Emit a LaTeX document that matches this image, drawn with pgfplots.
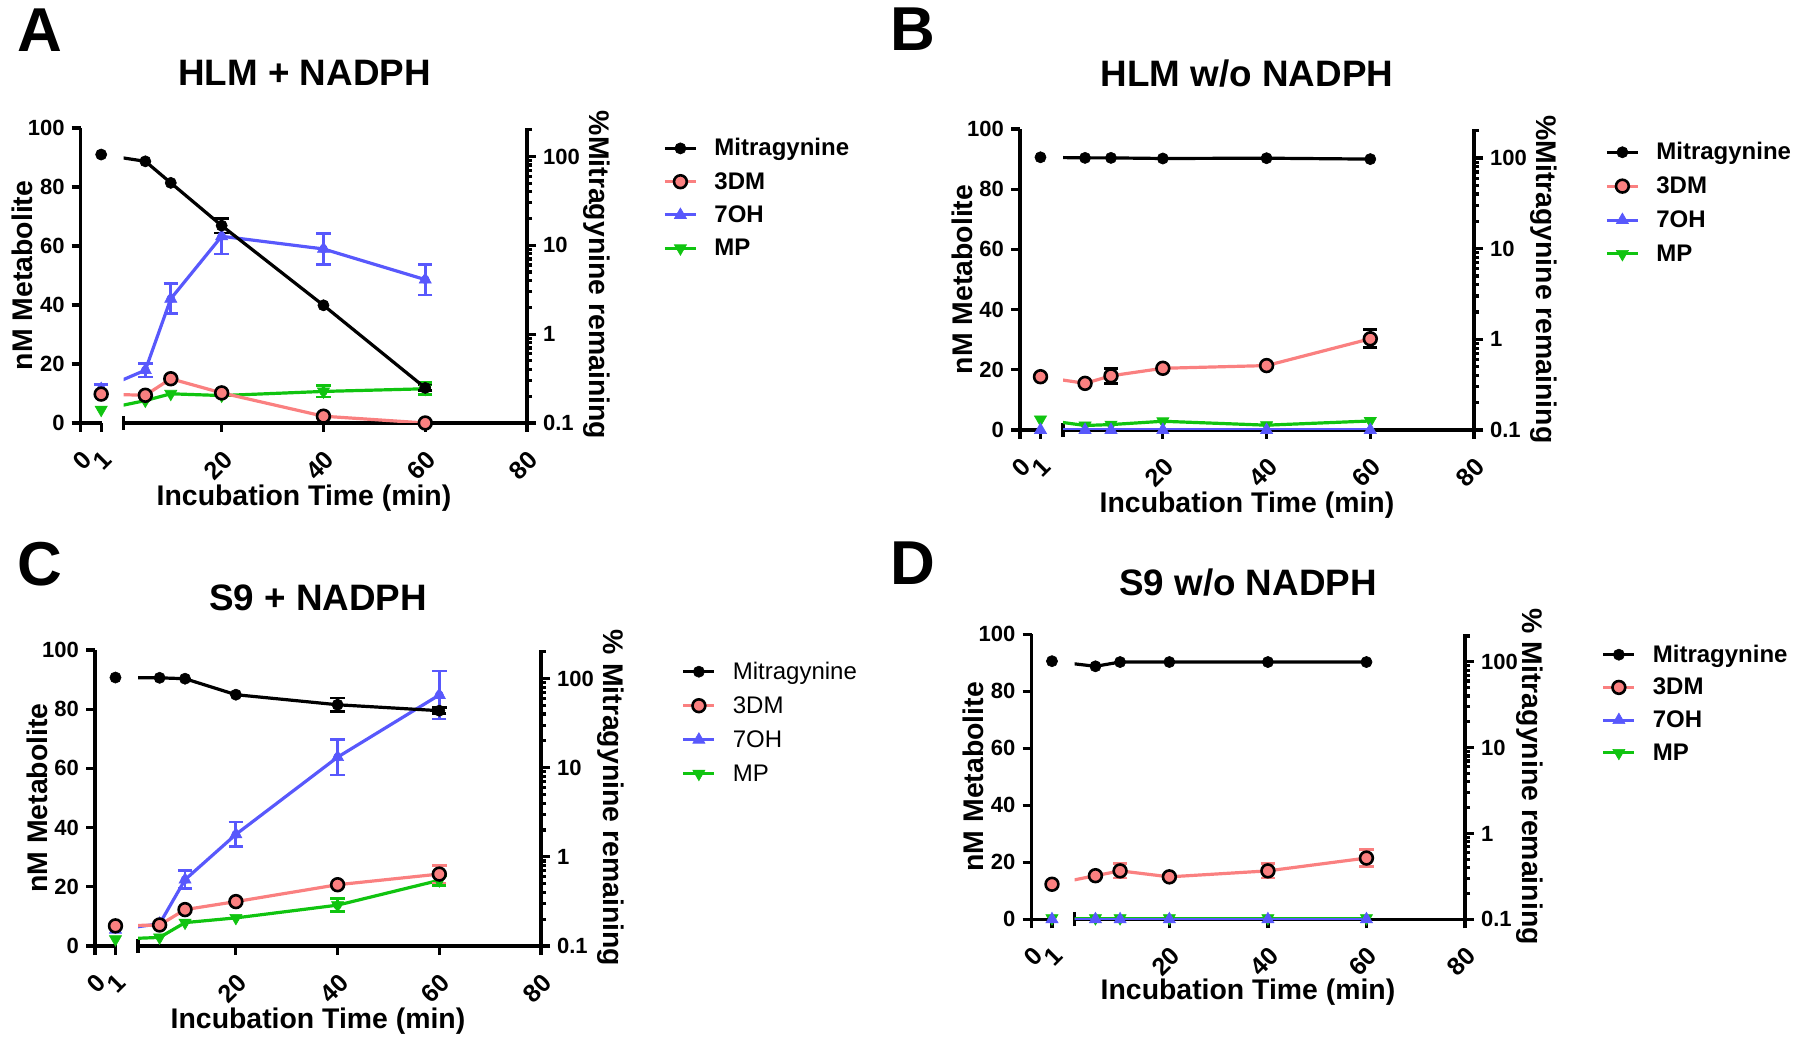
\documentclass[border=0pt]{standalone}
\usepackage{pgfplots}
\pgfplotsset{compat=1.18}
\usepackage{fontspec}
\setmainfont{Liberation Sans}
\definecolor{salmon7}{RGB}{250,128,128}
\definecolor{blue7}{RGB}{88,88,252}
\definecolor{green7}{RGB}{16,196,16}
\newcommand{\tfont}{\fontsize{11}{13}\selectfont\bfseries}
\newcommand{\xtfont}{\fontsize{12.5}{14}\selectfont\bfseries}
\newcommand{\letfont}{\fontsize{31}{35}\selectfont\bfseries}
\newcommand{\titfont}{\fontsize{18.4}{22}\selectfont\bfseries}
\newcommand{\labfont}{\fontsize{14.2}{17}\selectfont\bfseries}
\pgfplotsset{
 base/.style={scale only axis, anchor=south west, ymin=0, ymax=100,
   axis line style={line width=1.6pt, black},
   tick style={line width=1.6pt, black},
   tick align=outside, major tick length=4.5pt,
   ticklabel style={font=\tfont},
   /pgf/number format/assume math mode=true},
 leftseg/.style={base, xmin=0, xmax=1.05, width=10.75pt, clip=false,
   axis x line*=bottom, axis y line*=left, xtick={0,1}, ytick={0,20,40,60,80,100},
   xticklabel style={rotate=45, anchor=north east, font=\xtfont}, xticklabel shift=3.7pt},
 rightseg/.style={base, xmin=0.75, xmax=80, clip=true,
   axis x line*=bottom, axis y line=none, xtick={20,40,60,80},
   xticklabel style={rotate=45, anchor=north east, font=\xtfont}, xticklabel shift=3.7pt,
   extra x ticks={0.75}, extra x tick labels={},
   extra x tick style={tick align=center, major tick length=7pt},
   legend cell align=left,
   legend image code/.code={\draw[mark repeat=2,mark phase=2,##1] plot coordinates {(0pt,0pt)(7.75pt,0pt)(15.5pt,0pt)};}},
 logax/.style={scale only axis, anchor=south west, xmin=0, xmax=1, ymin=0.1, ymax=209,
   axis x line=none, axis y line*=right,
   axis line style={line width=1.6pt, black},
   tick style={line width=1.6pt, black},
   tick align=outside, major tick length=4.5pt, minor tick length=2.5pt,
   ytick={0.1,1,10,100}, yticklabels={0.1,1,10,100},
   minor ytick={0.2,0.3,0.4,0.5,0.6,0.7,0.8,0.9,2,3,4,5,6,7,8,9,20,30,40,50,60,70,80,90,200},
   ticklabel style={font=\tfont}},
 leg/.style n args={4}{legend style={at={(#1,#2)}, anchor=north west, draw=none, fill=none,
   inner sep=0pt, row sep=#3, column sep=8.5pt, font=#4,
   nodes={inner sep=0pt, text height=9pt, text depth=1.5pt}}},
 mitmark/.style={mark=*, mark size=2.8pt, mark options={solid, fill=black, draw=black, line width=0.3pt}},
 dmmark/.style={mark=*, mark size=3.2pt, mark options={solid, fill=salmon7, draw=black, line width=1.3pt}},
 ohmark/.style={mark=triangle*, mark size=3.5pt, mark options={solid, fill=blue7, draw=blue7, line width=0.3pt}},
 mpmark/.style={mark=triangle*, mark size=3.5pt, mark options={solid, rotate=180, fill=green7, draw=green7, line width=0.3pt}},
 mitM/.style={only marks, mitmark},
 dmM/.style={only marks, dmmark},
 ohM/.style={only marks, ohmark},
 mpM/.style={only marks, mpmark},
 mitL/.style={black, line width=1.6pt, mark=none},
 dmL/.style={salmon7, line width=1.6pt, mark=none},
 ohL/.style={blue7, line width=1.6pt, mark=none},
 mpL/.style={green7, line width=1.6pt, mark=none},
 errb/.style={#1, only marks, mark=none, error bars/.cd, y dir=both, y explicit,
   error bar style={line width=1.4pt, draw=#1},
   error mark options={rotate=90, mark size=3.6pt, line width=1.4pt, draw=#1}},
}
\newcommand{\legitems}{%
 \addlegendimage{black, line width=1.5pt, mitmark}\addlegendentry{Mitragynine}
 \addlegendimage{salmon7, line width=1.5pt, dmmark}\addlegendentry{3DM}
 \addlegendimage{blue7, line width=1.5pt, ohmark}\addlegendentry{7OH}
 \addlegendimage{green7, line width=1.5pt, mpmark}\addlegendentry{MP}}
\begin{document}
\begin{tikzpicture}
\path[use as bounding box] (0pt,0pt) rectangle (900pt,-521pt);

% ================= Panel A =================
\begin{axis}[leftseg, at={(40.35pt,-211.5pt)}, height=147.5pt]
\addplot[mpM] coordinates {(1,4.5)};
\addplot[errb=blue7] coordinates {(1,11.5) +- (0,1.5)};
\addplot[ohM] coordinates {(1,11.5)};
\addplot[dmM] coordinates {(1,9.8)};
\addplot[mitM] coordinates {(1,91)};
\end{axis}
\begin{axis}[rightseg, at={(61.85pt,-211.5pt)}, width=201.65pt, height=147.5pt,
  leg={1.3372}{0.9678}{6.15pt}{\fontsize{12}{14}\selectfont\bfseries}]
\legitems
\addplot[mpL] coordinates {(-3.67,4.5) (5,7.6) (10,9.9) (20,9.3) (40,10.7) (60,11.6)};
\addplot[errb=green7] coordinates {(40,10.7) +- (0,1.9) (60,11.6) +- (0,2)};
\addplot[mpM] coordinates {(5,7.6) (10,9.9) (20,9.3) (40,10.7) (60,11.6)};
\addplot[ohL] coordinates {(-3.67,11.5) (5,17.9) (10,42.1) (20,63.3) (40,59.0) (60,48.6)};
\addplot[errb=blue7] coordinates {(5,17.9) +- (0,2.3) (10,42.1) +- (0,5.1) (20,63.3) +- (0,6) (40,59.0) +- (0,5.2) (60,48.6) +- (0,5.2)};
\addplot[ohM] coordinates {(5,17.9) (10,42.1) (20,63.3) (40,59.0) (60,48.6)};
\addplot[dmL] coordinates {(-3.67,9.8) (5,9.4) (10,15.0) (20,10.2) (40,2.3) (60,0)};
\addplot[dmM] coordinates {(5,9.4) (10,15.0) (20,10.2) (40,2.3) (60,0)};
\addplot[mitL] coordinates {(-3.67,91) (5,88.7) (10,81.4) (20,66.9) (40,39.9) (60,11.9)};
\addplot[errb=black] coordinates {(20,66.9) +- (0,2.5) (60,11.9) +- (0,1)};
\addplot[mitM] coordinates {(5,88.7) (10,81.4) (20,66.9) (40,39.9) (60,11.9)};
\end{axis}
\begin{axis}[ymode=log, logax, at={(61.85pt,-211.5pt)}, width=201.65pt, height=147.5pt]
\addplot[draw=none] coordinates {(0.5,1)};
\end{axis}
\node[font=\letfont] at (20pt,-15pt) {A};
\node[font=\titfont] at (152.3pt,-36.5pt) {HLM + NADPH};
\node[font=\labfont] at (152pt,-249pt) {Incubation Time (min)};
\node[font=\labfont, rotate=90] at (11pt,-137.75pt) {nM Metabolite};
\node[font=\labfont, rotate=-90] at (298.5pt,-137.5pt) {\%Mitragynine remaining};

% ================= Panel B =================
\begin{axis}[leftseg, at={(510pt,-215pt)}, height=150.5pt]
\addplot[mpM] coordinates {(1,3.5)};
\addplot[ohM] coordinates {(1,0)};
\addplot[dmM] coordinates {(1,17.7)};
\addplot[mitM] coordinates {(1,90.6)};
\end{axis}
\begin{axis}[rightseg, at={(531.5pt,-215pt)}, width=205.5pt, height=150.5pt,
  leg={1.3187}{0.959}{6.45pt}{\fontsize{12}{14}\selectfont\bfseries}]
\legitems
\addplot[mpL] coordinates {(-3.59,3.5) (5,1.5) (10,1.8) (20,2.9) (40,1.6) (60,3.0)};
\addplot[mpM] coordinates {(5,1.5) (10,1.8) (20,2.9) (40,1.6) (60,3.0)};
\addplot[ohL] coordinates {(-3.59,0) (5,0) (10,0) (20,0) (40,0) (60,0)};
\addplot[ohM] coordinates {(5,0) (10,0) (20,0) (40,0) (60,0)};
\addplot[dmL] coordinates {(-3.59,17.7) (5,15.5) (10,18.0) (20,20.5) (40,21.4) (60,30.3)};
\addplot[errb=black] coordinates {(10,18.0) +- (0,2.5) (60,30.3) +- (0,3)};
\addplot[dmM] coordinates {(5,15.5) (10,18.0) (20,20.5) (40,21.4) (60,30.3)};
\addplot[mitL] coordinates {(-3.59,90.6) (5,90.4) (10,90.4) (20,90.2) (40,90.3) (60,90.0)};
\addplot[mitM] coordinates {(5,90.4) (10,90.4) (20,90.2) (40,90.3) (60,90.0)};
\end{axis}
\begin{axis}[ymode=log, logax, at={(531.5pt,-215pt)}, width=205.5pt, height=150.5pt]
\addplot[draw=none] coordinates {(0.5,1)};
\end{axis}
\node[font=\letfont] at (456.5pt,-14.5pt) {B};
\node[font=\titfont] at (623.5pt,-37pt) {HLM w/o NADPH};
\node[font=\labfont] at (623.5pt,-252.5pt) {Incubation Time (min)};
\node[font=\labfont, rotate=90] at (481pt,-139.75pt) {nM Metabolite};
\node[font=\labfont, rotate=-90] at (772pt,-139.75pt) {\%Mitragynine remaining};

% ================= Panel C =================
\begin{axis}[leftseg, at={(47.5pt,-473pt)}, height=148pt]
\addplot[mpM] coordinates {(1,2.3)};
\addplot[ohM] coordinates {(1,5.5)};
\addplot[dmM] coordinates {(1,6.8)};
\addplot[mitM] coordinates {(1,90.7)};
\end{axis}
\begin{axis}[rightseg, at={(69pt,-473pt)}, width=201.5pt, height=148pt,
  leg={1.3486}{0.9635}{6.5pt}{\fontsize{12}{14}\selectfont}]
\legitems
\addplot[mpL] coordinates {(-3.67,2.3) (5,2.9) (10,7.9) (20,9.5) (40,13.8) (60,22.2)};
\addplot[errb=green7] coordinates {(40,13.8) +- (0,2.2) (60,22.2) +- (0,1.7)};
\addplot[mpM] coordinates {(5,2.9) (10,7.9) (20,9.5) (40,13.8) (60,22.2)};
\addplot[ohL] coordinates {(-3.67,5.5) (5,7.5) (10,22.4) (20,37.7) (40,63.8) (60,84.8)};
\addplot[errb=blue7] coordinates {(10,22.4) +- (0,3.1) (20,37.7) +- (0,4.2) (40,63.8) +- (0,6) (60,84.8) +- (0,8.1)};
\addplot[ohM] coordinates {(5,7.5) (10,22.4) (20,37.7) (40,63.8) (60,84.8)};
\addplot[dmL] coordinates {(-3.67,6.8) (5,7.1) (10,12.3) (20,15.0) (40,20.7) (60,24.3)};
\addplot[errb=salmon7] coordinates {(60,24.3) +- (0,3)};
\addplot[dmM] coordinates {(5,7.1) (10,12.3) (20,15.0) (40,20.7) (60,24.3)};
\addplot[mitL] coordinates {(-3.67,90.7) (5,90.6) (10,90.3) (20,84.9) (40,81.5) (60,79.5)};
\addplot[errb=black] coordinates {(40,81.5) +- (0,2.3) (60,79.5) +- (0,1)};
\addplot[mitM] coordinates {(5,90.6) (10,90.3) (20,84.9) (40,81.5) (60,79.5)};
\end{axis}
\begin{axis}[ymode=log, logax, at={(69pt,-473pt)}, width=201.5pt, height=148pt]
\addplot[draw=none] coordinates {(0.5,1)};
\end{axis}
\node[font=\letfont] at (20pt,-282pt) {C};
\node[font=\titfont] at (159pt,-299pt) {S9 + NADPH};
\node[font=\labfont] at (159pt,-510.5pt) {Incubation Time (min)};
\node[font=\labfont, rotate=90] at (18.5pt,-399pt) {nM Metabolite};
\node[font=\labfont, rotate=-90] at (305.5pt,-399pt) {\% Mitragynine remaining};

% ================= Panel D =================
\begin{axis}[leftseg, at={(515.75pt,-459.65pt)}, height=142.45pt]
\addplot[mpM] coordinates {(1,0.4)};
\addplot[ohM] coordinates {(1,0)};
\addplot[dmM] coordinates {(1,12.3)};
\addplot[mitM] coordinates {(1,90.6)};
\end{axis}
\begin{axis}[rightseg, at={(537.25pt,-459.65pt)}, width=195.25pt, height=142.45pt,
  leg={1.3495}{0.967}{5.85pt}{\fontsize{12}{14}\selectfont\bfseries}]
\legitems
\addplot[mpL] coordinates {(-3.82,0.4) (5,0.4) (10,0.4) (20,0.4) (40,0.4) (60,0.4)};
\addplot[mpM] coordinates {(5,0.4) (10,0.4) (20,0.4) (40,0.4) (60,0.4)};
\addplot[ohL] coordinates {(-3.82,0) (5,0) (10,0) (20,0) (40,0) (60,0)};
\addplot[ohM] coordinates {(5,0) (10,0) (20,0) (40,0) (60,0)};
\addplot[dmL] coordinates {(-3.82,12.3) (5,15.3) (10,17.0) (20,14.9) (40,17.0) (60,21.5)};
\addplot[errb=salmon7] coordinates {(10,17.0) +- (0,2.5) (40,17.0) +- (0,2.5) (60,21.5) +- (0,3)};
\addplot[dmM] coordinates {(5,15.3) (10,17.0) (20,14.9) (40,17.0) (60,21.5)};
\addplot[mitL] coordinates {(-3.82,90.6) (5,88.8) (10,90.3) (20,90.3) (40,90.3) (60,90.3)};
\addplot[mitM] coordinates {(5,88.8) (10,90.3) (20,90.3) (40,90.3) (60,90.3)};
\end{axis}
\begin{axis}[ymode=log, logax, at={(537.25pt,-459.65pt)}, width=195.25pt, height=142.45pt]
\addplot[draw=none] coordinates {(0.5,1)};
\end{axis}
\node[font=\letfont] at (456.5pt,-281.5pt) {D};
\node[font=\titfont] at (624pt,-291.5pt) {S9 w/o NADPH};
\node[font=\labfont] at (624pt,-496pt) {Incubation Time (min)};
\node[font=\labfont, rotate=90] at (486.75pt,-388.4pt) {nM Metabolite};
\node[font=\labfont, rotate=-90] at (765pt,-388.4pt) {\% Mitragynine remaining};
\end{tikzpicture}
\end{document}
